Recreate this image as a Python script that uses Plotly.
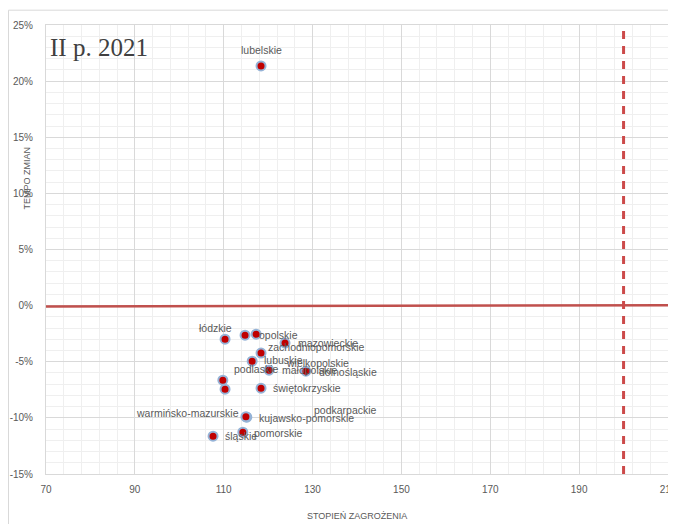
import plotly.graph_objects as go

# województwa: stopień zagrożenia (x) i tempo zmian (y)
regions = ['dolnośląskie', 'kujawsko-pomorskie', 'lubelskie', 'lubuskie', 'łódzkie',
           'małopolskie', 'mazowieckie', 'opolskie', 'podkarpackie', 'podlaskie',
           'pomorskie', 'śląskie', 'świętokrzyskie', 'warmińsko-mazurskie',
           'wielkopolskie', 'zachodniopomorskie']
stopien = [128.5, 115.2, 118.4, 116.4, 110.3, 120.2, 123.8, 114.8, 110.3, 109.8,
           114.3, 107.6, 118.4, 115.0, 117.3, 118.4]
tempo = [-0.0584, -0.0994, 0.2135, -0.0495, -0.0299, -0.0575, -0.0334, -0.0263,
         -0.0744, -0.0664, -0.1127, -0.1163, -0.0735, -0.0990, -0.0254, -0.0423]

# linie odniesienia
prog_x = 200
zero_line_x = [70, 210]
zero_line_y = [-0.0008, 0.0004]

x_ticks = [70, 90, 110, 130, 150, 170, 190, 210]
y_ticks = [-0.15, -0.10, -0.05, 0, 0.05, 0.10, 0.15, 0.20, 0.25]
y_ticktext = ['-15%', '-10%', '-5%', '0%', '5%', '10%', '15%', '20%', '25%']

# polozenie etykiet (przesuniecie w px, kotwica)
label_pos = {
    'lubelskie': (0, 16, 'center'),
    'łódzkie': (8, 11, 'right'),
    'opolskie': (13, 0, 'left'),
    'wielkopolskie': (29, -29, 'left'),
    'mazowieckie': (12, 0, 'left'),
    'zachodniopomorskie': (6, 6, 'left'),
    'lubuskie': (11, 1, 'left'),
    'podlaskie': (10, 11, 'left'),
    'małopolskie': (12, 0, 'left'),
    'dolnośląskie': (12, -1, 'left'),
    'świętokrzyskie': (11, 0, 'left'),
    'podkarpackie': (88, -21, 'left'),
    'warmińsko-mazurskie': (-6, 4, 'right'),
    'kujawsko-pomorskie': (11, -1, 'left'),
    'pomorskie': (10, -1, 'left'),
    'śląskie': (11, 0, 'left'),
}

fig = go.Figure()

fig.add_trace(go.Scatter(
    x=zero_line_x, y=zero_line_y, mode='lines',
    line=dict(color='#c0504d', width=2.5), hoverinfo='skip'
))

fig.add_trace(go.Scatter(
    x=[prog_x, prog_x], y=[y_ticks[0], y_ticks[-1]], mode='lines',
    line=dict(color='#cc4a4a', width=3, dash='8px,7px'), hoverinfo='skip'
))

fig.add_trace(go.Scatter(
    x=stopien, y=tempo, mode='markers', text=regions,
    marker=dict(size=9, color='#c00000', line=dict(color='#95b3d7', width=2))
))

for name, xv, yv in zip(regions, stopien, tempo):
    dx, dy, anchor = label_pos[name]
    fig.add_annotation(
        x=xv, y=yv, text=name, showarrow=False,
        xanchor=anchor, yanchor='middle', xshift=dx, yshift=dy,
        font=dict(family='Liberation Sans', size=10.5, color='#595959'),
        borderpad=0
    )

# tytul
fig.add_annotation(
    x=0.004, y=0.985, xref='paper', yref='paper', text='II p. 2021',
    showarrow=False, xanchor='left', yanchor='top',
    font=dict(family='Liberation Serif', size=25, color='#404040')
)

# tytuly osi
fig.add_annotation(
    x=-0.042, y=0.66, xref='paper', yref='paper', text='TEMPO ZMIAN',
    showarrow=False, textangle=-90,
    font=dict(family='Liberation Sans', size=9, color='#595959')
)
fig.add_annotation(
    x=0.5, y=-0.093, xref='paper', yref='paper', text='STOPIEŃ ZAGROŻENIA',
    showarrow=False, yanchor='middle',
    font=dict(family='Liberation Sans', size=9, color='#595959')
)

# ramka wykresu
fig.add_shape(type='path', xref='paper', yref='paper',
              path='M -0.0603 -0.2 L -0.0603 1.033 L 1.02 1.033',
              line=dict(color='#d9d9d9', width=1))

fig.update_xaxes(
    range=[70, 210], tickvals=x_ticks, showgrid=True, gridcolor='#d9d9d9', gridwidth=1,
    minor=dict(dtick=4, tick0=70, showgrid=True, gridcolor='#efefef', gridwidth=1),
    zeroline=False, showline=True, linecolor='#d9d9d9', mirror=True,
    ticks='', ticklabelstandoff=6, automargin=False, ticklabeloverflow='allow',
    tickfont=dict(family='Liberation Sans', size=10, color='#595959')
)
fig.update_yaxes(
    range=[-0.15, 0.25], tickvals=y_ticks, ticktext=y_ticktext,
    showgrid=True, gridcolor='#d9d9d9', gridwidth=1,
    minor=dict(dtick=0.01, tick0=0, showgrid=True, gridcolor='#efefef', gridwidth=1),
    zeroline=False, showline=True, linecolor='#d9d9d9', mirror=True,
    ticks='', ticklabelstandoff=10, automargin=False,
    tickfont=dict(family='Liberation Sans', size=10, color='#595959')
)

# strona ma 8px marginesu, stad mniejszy rozmiar figury
fig.update_layout(
    width=668, height=516,
    margin=dict(l=38, r=8, t=17, b=50),
    plot_bgcolor='white', paper_bgcolor='white',
    showlegend=False
)

fig.write_html("out.html")
